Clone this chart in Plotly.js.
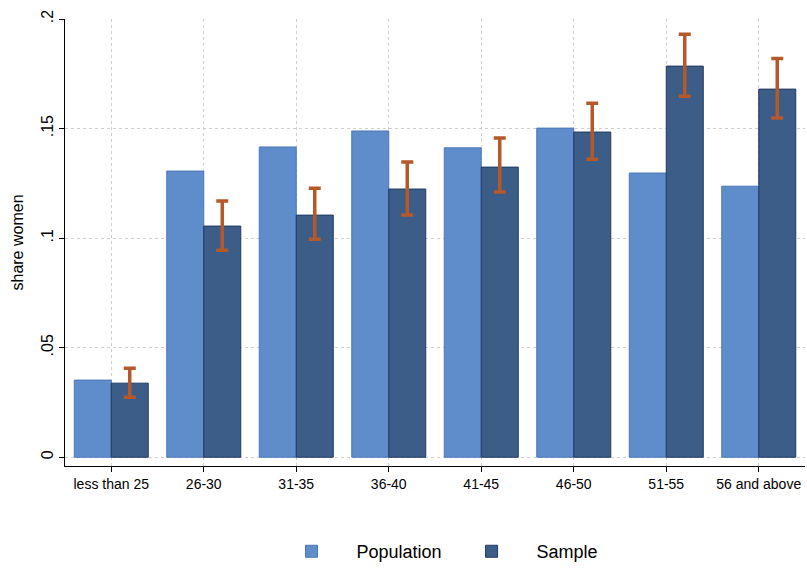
<!DOCTYPE html>
<html>
<head>
<script src="https://cdn.plot.ly/plotly-3.0.1.min.js"></script>
<style>body{margin:0;background:#fff}</style>
</head>
<body>
<div id="chart" style="width:807px;height:572px"></div>
<script>
var ageGroups = ['less than 25', '26-30', '31-35', '36-40', '41-45', '46-50', '51-55', '56 and above'];
var population = [0.0352, 0.1306, 0.1416, 0.1489, 0.1412, 0.1502, 0.1297, 0.1237];
var sample = [0.0338, 0.1055, 0.1105, 0.1224, 0.1324, 0.1484, 0.1785, 0.1680];
var sampleHigh = [0.0406, 0.1169, 0.1228, 0.1347, 0.1457, 0.1616, 0.1930, 0.1820];
var sampleLow = [0.0274, 0.0945, 0.0995, 0.1105, 0.1210, 0.1360, 0.1648, 0.1548];

var trPop = {
	type: 'bar', name: 'Population', x: ageGroups, y: population,
	marker: {color: '#5f8dcb', line: {color: '#4a78b8', width: 1}}
};
var trSample = {
	type: 'bar', name: 'Sample', x: ageGroups, y: sample,
	marker: {color: '#3b5d88', line: {color: '#1f3a63', width: 1}},
	error_y: {
		type: 'data', symmetric: false,
		array: sample.map((v, i) => sampleHigh[i] - v),
		arrayminus: sample.map((v, i) => v - sampleLow[i]),
		color: '#b5582a', thickness: 3.5, width: 6
	}
};
var layout = {
	margin: {l: 65, r: 2, t: 19, b: 101},
	barmode: 'group', bargap: 0.2, bargroupgap: 0,
	plot_bgcolor: '#fff', paper_bgcolor: '#fff',
	font: {family: 'Liberation Sans, Arial, sans-serif', size: 15, color: '#000'},
	xaxis: {
		showgrid: true, gridcolor: '#cfcfcf', griddash: 'dot', tickfont: {size: 14},
		showline: true, linecolor: '#000', ticks: 'outside', ticklen: 5, tickcolor: '#000'
	},
	yaxis: {
		range: [-0.004, 0.2], tickvals: [0, 0.05, 0.1, 0.15, 0.2], ticktext: ['0', '.05', '.1', '.15', '.2'],
		showgrid: true, gridcolor: '#cfcfcf', griddash: 'dot', zeroline: false, tickangle: -90,
		tickfont: {size: 16},
		showline: true, linecolor: '#000', ticks: 'outside', ticklen: 5, tickcolor: '#000',
		title: {text: 'share women', font: {size: 16}}
	},
	showlegend: true,
	legend: {orientation: 'h', x: 0.5, xanchor: 'center', y: -0.15, yanchor: 'top', font: {size: 18}, itemwidth: 80}
};
Plotly.newPlot('chart', [trPop, trSample], layout, {displayModeBar: false});
</script>
</body>
</html>
